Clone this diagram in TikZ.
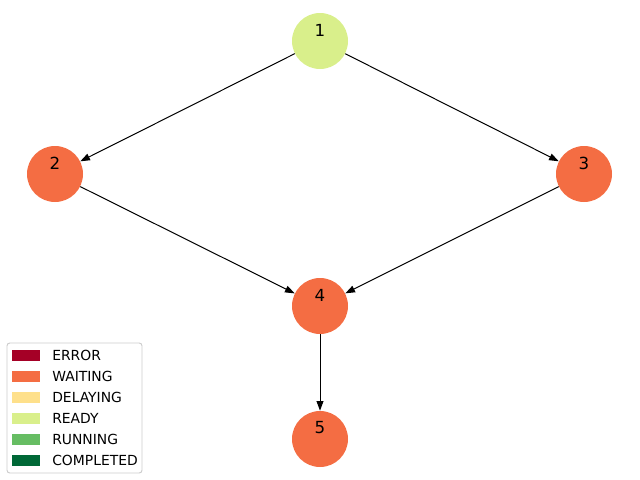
\documentclass[tikz,border=0pt]{standalone}
\usepackage{fontspec}
\setmainfont{DejaVu Sans}
\usetikzlibrary{arrows.meta}
\definecolor{errred}{HTML}{A50026}
\definecolor{waitorange}{HTML}{F46D43}
\definecolor{delayyellow}{HTML}{FEE08B}
\definecolor{readygreen}{HTML}{D9EF8B}
\definecolor{rungreen}{HTML}{66BD63}
\definecolor{donegreen}{HTML}{006837}

\tikzset{
  task/.style={circle, minimum size=56*0.72pt, inner sep=0pt, draw=none},
  tasklbl/.style={font=\fontsize{12}{14}\selectfont, yshift=11*0.72pt},
  edge/.style={-{Triangle[length=7pt, width=5pt]}, line width=0.72pt},
  swatch/.style={minimum width=28*0.72pt, minimum height=11*0.72pt, inner sep=0pt, draw=none},
  keytxt/.style={font=\fontsize{10}{12}\selectfont, anchor=west, inner sep=0pt}
}

\begin{document}
\begin{tikzpicture}[x=0.72pt, y=-0.72pt]
  \useasboundingbox (0,0) rectangle (640,480);
  % task nodes
  \node[task, fill=readygreen, label={[tasklbl]center:1}] (t1) at (320,41) {};
  \node[task, fill=waitorange, label={[tasklbl]center:2}] (t2) at (55,174) {};
  \node[task, fill=waitorange, label={[tasklbl]center:3}] (t3) at (584,174) {};
  \node[task, fill=waitorange, label={[tasklbl]center:4}] (t4) at (320,306) {};
  \node[task, fill=waitorange, label={[tasklbl]center:5}] (t5) at (320,439) {};
  % dependencies
  \draw[edge] (t1) -- (t2);
  \draw[edge] (t1) -- (t3);
  \draw[edge] (t2) -- (t4);
  \draw[edge] (t3) -- (t4);
  \draw[edge] (t4) -- (t5);
  % legend
  \draw[rounded corners=2pt, draw=black!20, fill=white, line width=0.7pt] (7,343) rectangle (142,473);
  \foreach \c/\t [count=\i from 0] in {errred/ERROR, waitorange/WAITING, delayyellow/DELAYING,
      readygreen/READY, rungreen/RUNNING, donegreen/COMPLETED} {
    \node[swatch, fill=\c] (sw\i) at (26,355+21*\i) {};
    \node[keytxt] (kt\i) at (52,355+21*\i) {\t};
  }
\end{tikzpicture}
\end{document}
